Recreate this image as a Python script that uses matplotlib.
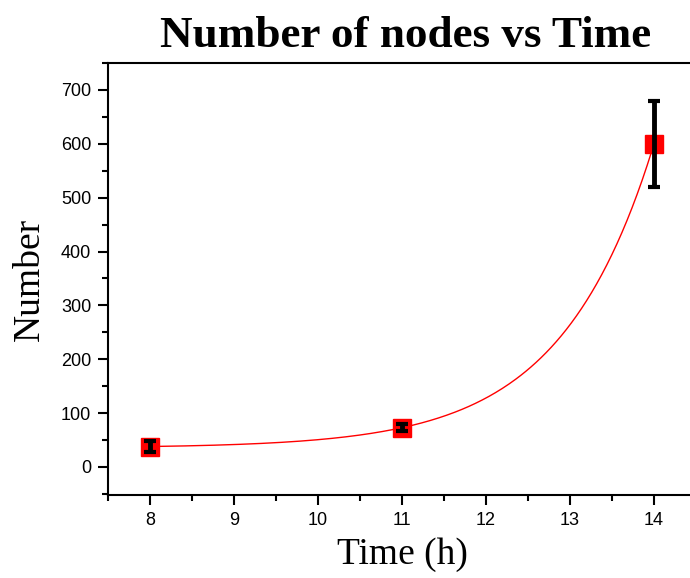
import numpy as np
import matplotlib
matplotlib.use('Agg')
import matplotlib.pyplot as plt
from matplotlib.ticker import MultipleLocator

# data
time_h = [8, 11, 14]
nodes = [38, 73, 600]
nodes_err = [10, 6, 80]

# exponential fit y = y0 + A*exp(k*(x-8)) through the three points
q = (nodes[2] - nodes[1]) / (nodes[1] - nodes[0])
k = np.log(q) / (time_h[1] - time_h[0])
A = (nodes[1] - nodes[0]) / (q - 1)
y0 = nodes[0] - A
xfit = np.linspace(time_h[0], time_h[-1], 300)
yfit = y0 + A * np.exp(k * (xfit - time_h[0]))

fig = plt.figure(figsize=(6.9, 5.78), dpi=100)
ax = fig.add_axes([108 / 690, 83 / 578, 588 / 690, 432 / 578])

ax.plot(xfit, yfit, color='red', lw=1, zorder=2)
ax.plot(time_h, nodes, 's', color='red', ms=13, mec='red', zorder=3)
ax.errorbar(time_h, nodes, yerr=nodes_err, fmt='none', ecolor='black',
            elinewidth=3.5, capsize=4.5, capthick=3, zorder=4)

ax.set_xlim(7.5, 14.5)
ax.set_ylim(-52, 750)
ax.xaxis.set_major_locator(MultipleLocator(1))
ax.xaxis.set_minor_locator(MultipleLocator(0.5))
ax.yaxis.set_major_locator(MultipleLocator(100))
ax.yaxis.set_minor_locator(MultipleLocator(50))

for side in ['left', 'bottom', 'top']:
    ax.spines[side].set_linewidth(1.5)
ax.spines['right'].set_visible(False)
ax.tick_params(which='major', direction='out', length=7, width=1.5,
               labelsize=13, pad=5, top=False, right=False)
ax.tick_params(which='minor', direction='out', length=4, width=1.5,
               top=False, right=False)
for lab in ax.get_xticklabels() + ax.get_yticklabels():
    lab.set_fontfamily('Liberation Sans')

ax.set_xlabel('Time (h)', fontfamily='Liberation Serif', fontsize=27, labelpad=6)
ax.set_ylabel('Number', fontfamily='Liberation Serif', fontsize=27, labelpad=10)
fig.text(406 / 690, 0.938, 'Number of nodes vs Time', fontfamily='Liberation Serif',
         fontweight='bold', fontsize=32.5, ha='center', va='center')

fig.savefig('out.png', dpi=100)
